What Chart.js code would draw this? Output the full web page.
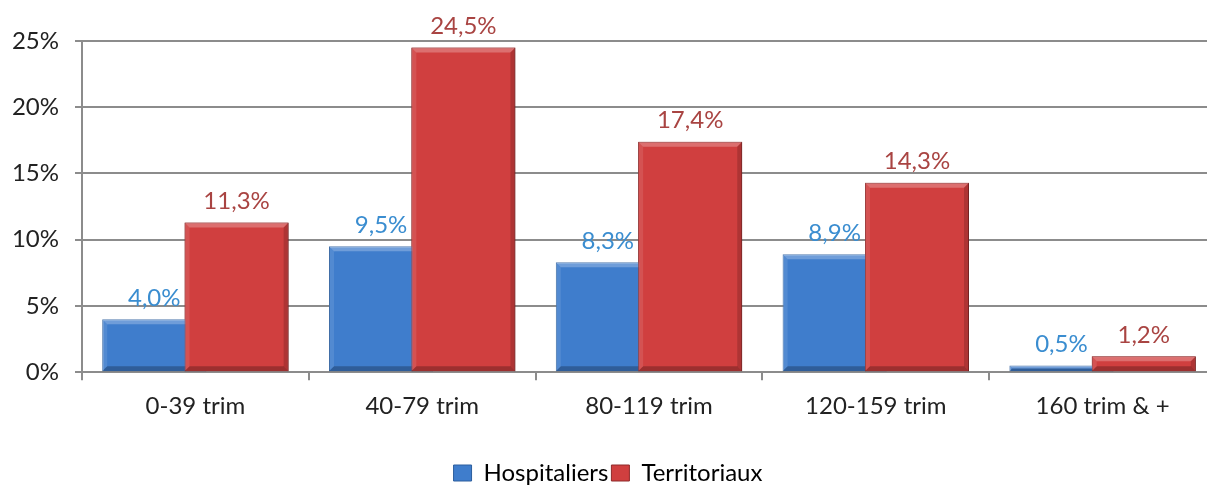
<!DOCTYPE html>
<html>
<head>
<meta charset="utf-8">
<script src="https://cdn.jsdelivr.net/npm/chart.js@4.4.1/dist/chart.umd.min.js"></script>
<style>
  html, body { margin: 0; padding: 0; background: #fff; overflow: hidden; }
  #wrap { width: 1216px; height: 485px; }
</style>
</head>
<body>
<div id="wrap"><canvas id="chart" width="1216" height="485"></canvas></div>
<script>
const categories = ['0-39 trim', '40-79 trim', '80-119 trim', '120-159 trim', '160 trim & +'];
const hospitaliers = [4.0, 9.5, 8.3, 8.9, 0.5];
const territoriaux = [11.3, 24.5, 17.4, 14.3, 1.2];
const yTicks = [0, 5, 10, 15, 20, 25];

const FONT = 'Lato, "Open Sans", sans-serif';

function fmt(v){
  return v.toFixed(1).replace('.', ',') + '%';
}

// bevel shading on top of each bar
function bevel(ctx, el){
  const p = el.getProps(['x', 'y', 'base', 'width'], true);
  const l = p.x - p.width / 2, r = p.x + p.width / 2;
  const t = Math.min(p.y, p.base), b = Math.max(p.y, p.base);
  const d = Math.min(5, (b - t) / 2);
  const quad = (pts, col) => {
    ctx.beginPath();
    ctx.moveTo(pts[0][0], pts[0][1]);
    for (let i = 1; i < pts.length; i++) ctx.lineTo(pts[i][0], pts[i][1]);
    ctx.closePath();
    ctx.fillStyle = col;
    ctx.fill();
  };
  quad([[l, t], [r, t], [r - d, t + d], [l + d, t + d]], 'rgba(255,255,255,0.25)');
  quad([[l, t], [l + d, t + d], [l + d, b - d], [l, b]], 'rgba(255,255,255,0.10)');
  quad([[r, t], [r, b], [r - d, b - d], [r - d, t + d]], 'rgba(0,0,0,0.16)');
  quad([[l, b], [l + d, b - d], [r - d, b - d], [r, b]], 'rgba(0,0,0,0.25)');
}

// red in front of blue, then bevels and value labels
const barExtras = {
  id: 'barExtras',
  afterDatasetsDraw(chart){
    const ctx = chart.ctx;
    const blue = chart.getDatasetMeta(0);
    const red = chart.getDatasetMeta(1);
    ctx.save();
    blue.data.forEach(el => bevel(ctx, el));
    red.data.forEach(el => { el.draw(ctx); bevel(ctx, el); });

    ctx.font = '24px ' + FONT;
    ctx.textAlign = 'center';
    ctx.textBaseline = 'bottom';
    const colors = ['#3a8dd0', '#a94442'];
    [blue, red].forEach((meta, di) => {
      ctx.fillStyle = colors[di];
      const vals = chart.data.datasets[di].data;
      meta.data.forEach((el, i) => {
        ctx.fillText(fmt(vals[i]), el.x, el.y - 9);
      });
    });
    ctx.restore();
  }
};

const ctx = document.getElementById('chart').getContext('2d');
new Chart(ctx, {
  type: 'bar',
  data: {
    labels: categories,
    datasets: [
      {
        label: 'Hospitaliers',
        data: hospitaliers,
        backgroundColor: '#3f7dcc',
        borderColor: '#2d5f9e',
        borderWidth: 1,
        categoryPercentage: 0.726,
        barPercentage: 1.264
      },
      {
        label: 'Territoriaux',
        data: territoriaux,
        backgroundColor: '#d03f3f',
        borderColor: '#8e2a2a',
        borderWidth: 1,
        categoryPercentage: 0.726,
        barPercentage: 1.264
      }
    ]
  },
  options: {
    responsive: false,
    animation: false,
    layout: { padding: { top: 41, left: 0, right: 0, bottom: -10 } },
    plugins: {
      legend: {
        position: 'bottom',
        labels: {
          font: { family: FONT, size: 24 },
          color: '#222',
          boxWidth: 18,
          boxHeight: 16,
          padding: 3,
          generateLabels(chart){
            return chart.data.datasets.map((ds, i) => ({
              text: ds.label,
              fillStyle: ds.backgroundColor,
              strokeStyle: ds.borderColor,
              lineWidth: 1,
              datasetIndex: i
            }));
          }
        }
      },
      tooltip: { enabled: false }
    },
    scales: {
      x: {
        grid: { display: true, drawOnChartArea: false, offset: true, tickLength: 8, color: '#8c8c8c', lineWidth: 2 },
        border: { color: '#8c8c8c', width: 2 },
        ticks: { font: { family: FONT, size: 24 }, color: '#222', padding: 12 },
        afterFit(scale){ scale.height += 25; }
      },
      y: {
        min: 0,
        max: 25,
        afterBuildTicks(scale){ scale.ticks = yTicks.map(v => ({ value: v })); },
        afterFit(scale){ scale.width = 82; },
        grid: { color: '#8c8c8c', lineWidth: 2, tickLength: 7 },
        border: { color: '#8c8c8c', width: 2 },
        ticks: {
          font: { family: FONT, size: 24 },
          color: '#222',
          padding: 16,
          callback: v => v + '%'
        }
      }
    }
  },
  plugins: [barExtras]
});
</script>
</body>
</html>
